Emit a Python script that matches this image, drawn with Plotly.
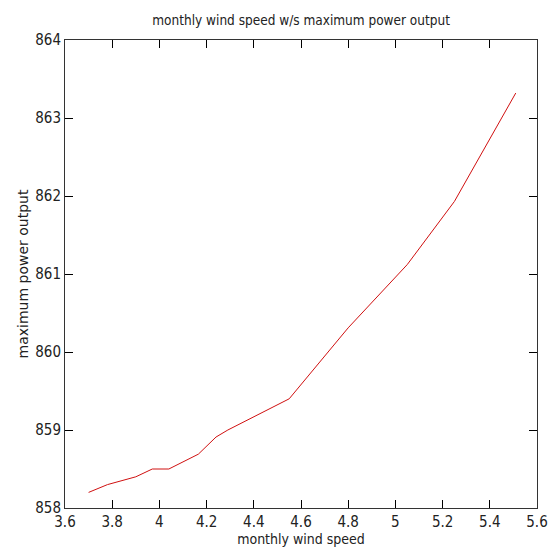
import plotly.graph_objects as go

wind_speed = [3.70, 3.78, 3.90, 3.97, 4.04, 4.165, 4.24, 4.29, 4.55, 4.80, 5.05, 5.25, 5.51]
power_out = [858.20, 858.30, 858.40, 858.50, 858.50, 858.69, 858.91, 859.00, 859.40, 860.31, 861.12, 861.93, 863.32]

x_ticks = [3.6, 3.8, 4.0, 4.2, 4.4, 4.6, 4.8, 5.0, 5.2, 5.4, 5.6]
x_labels = ["3.6", "3.8", "4", "4.2", "4.4", "4.6", "4.8", "5", "5.2", "5.4", "5.6"]
y_ticks = [858, 859, 860, 861, 862, 863, 864]

FONT = "DejaVu Sans Condensed, Liberation Sans Narrow, Liberation Sans, sans-serif"
YFONT = "DejaVu Sans, Liberation Sans, sans-serif"

fig = go.Figure()
fig.add_trace(go.Scatter(x=wind_speed, y=power_out, mode="lines",
                         line=dict(color="#d01010", width=1), showlegend=False))

fig.update_layout(
    width=555, height=559,
    margin=dict(l=65, r=18, t=40, b=51, autoexpand=False),
    paper_bgcolor="white", plot_bgcolor="rgba(0,0,0,0)",
    font=dict(family=FONT, size=15, color="#222"),
    title=dict(text="monthly wind speed w/s maximum power output",
               x=0.5425, xanchor="center", y=0.964, yanchor="middle",
               font=dict(family=FONT, size=13.5, color="#222")),
    xaxis=dict(
        range=[3.6, 5.6], tickmode="array", tickvals=x_ticks, ticktext=x_labels,
        ticks="inside", ticklen=8, tickwidth=1, tickcolor="black",
        showgrid=False, zeroline=False, layer="above traces",
        showline=True, linecolor="#333", linewidth=1, mirror="ticks",
        tickfont=dict(family=FONT, size=15, color="#222"),
        title=dict(text="monthly wind speed", standoff=4,
                   font=dict(family=FONT, size=14, color="#222")),
    ),
    yaxis=dict(
        range=[858, 864], tickmode="array", tickvals=y_ticks,
        ticks="inside", ticklen=8, tickwidth=1, tickcolor="black",
        showgrid=False, zeroline=False, layer="above traces",
        showline=True, linecolor="#333", linewidth=1, mirror="ticks",
        tickfont=dict(family=FONT, size=15, color="#222"),
        title=dict(text="maximum power output", standoff=3,
                   font=dict(family=YFONT, size=14, color="#222")),
    ),
)

fig.write_html("out.html")
